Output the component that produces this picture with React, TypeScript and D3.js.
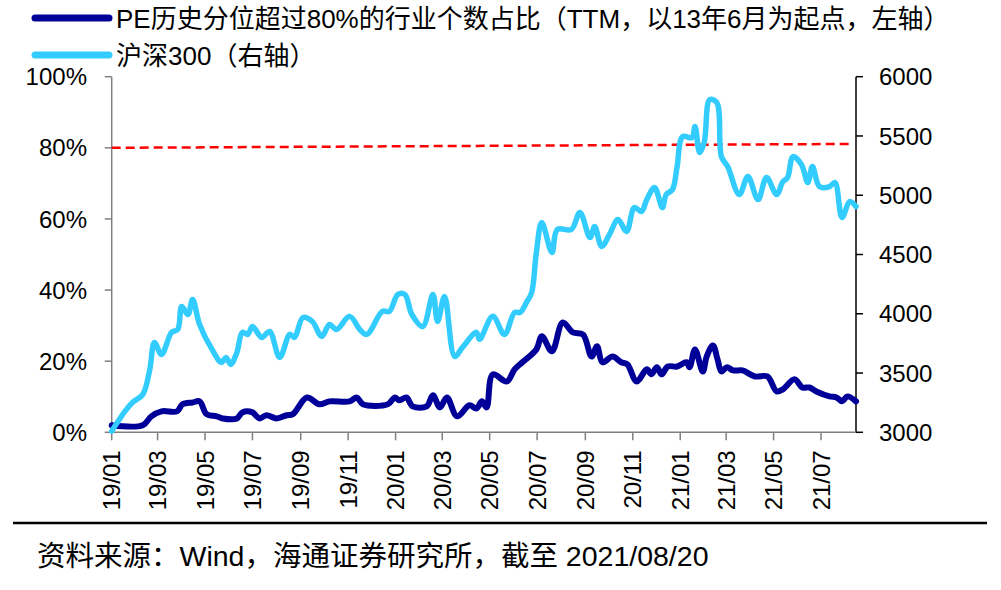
import React from 'react';
import * as d3 from 'd3';

// PE历史分位超过80%的行业个数占比 (%), weekly readings
const PE_DATES = [
  '2019-01-01','2019-02-10','2019-02-21','2019-03-06','2019-03-26','2019-04-02','2019-04-15','2019-04-24',
  '2019-05-03','2019-05-16','2019-05-24','2019-06-11','2019-06-18','2019-07-01','2019-07-10','2019-07-19',
  '2019-08-01','2019-08-14','2019-08-22','2019-09-09','2019-09-25','2019-10-08','2019-11-03','2019-11-12',
  '2019-11-20','2019-12-22','2019-12-31','2020-01-06','2020-01-15','2020-01-23','2020-02-10','2020-02-18',
  '2020-02-27','2020-03-07','2020-03-20','2020-04-05','2020-04-14','2020-04-21','2020-04-27','2020-05-05',
  '2020-05-23','2020-06-02','2020-06-12','2020-06-30','2020-07-07','2020-07-20','2020-08-03','2020-08-16',
  '2020-08-29','2020-09-09','2020-09-16','2020-09-23','2020-10-06','2020-10-17','2020-10-25','2020-11-06',
  '2020-11-19','2020-11-25','2020-12-02','2020-12-08','2020-12-16','2020-12-28','2021-01-09','2021-01-13',
  '2021-01-20','2021-01-30','2021-02-04','2021-02-12','2021-02-18','2021-02-23','2021-03-02','2021-03-10',
  '2021-03-22','2021-04-07','2021-04-23','2021-05-05','2021-05-13','2021-05-28','2021-06-07','2021-06-16',
  '2021-06-25','2021-07-12','2021-07-21','2021-07-28','2021-08-04','2021-08-15'
];
const PE_VALUES = [
  2.0, 2.0, 4.5, 5.9, 5.9, 7.9, 8.4, 8.7,
  5.1, 4.5, 3.9, 3.9, 5.6, 5.6, 3.9, 4.8,
  3.9, 4.8, 5.1, 9.8, 7.9, 8.7, 8.7, 9.8,
  7.9, 7.9, 9.8, 9.0, 9.8, 7.3, 7.3, 10.4,
  7.0, 9.8, 4.5, 7.6, 6.7, 8.7, 7.0, 16.3,
  14.3, 17.7, 19.7, 23.3, 27.0, 22.8, 30.9, 28.1,
  27.5, 21.3, 24.2, 19.7, 21.3, 19.7, 19.1, 14.3,
  17.7, 16.3, 18.3, 16.3, 18.5, 18.5, 19.7, 18.3,
  23.3, 17.1, 21.3, 24.4, 20.5, 17.1, 18.3, 17.4,
  17.4, 15.7, 15.7, 11.5, 12.1, 14.9, 12.6, 12.6,
  11.5, 10.1, 9.8, 8.7, 10.1, 8.7
];

// 沪深300 index level
const HS_DATES = [
  '2019-01-01','2019-01-18','2019-01-28','2019-02-10','2019-02-19','2019-02-25','2019-03-06','2019-03-19',
  '2019-03-27','2019-04-01','2019-04-09','2019-04-15','2019-04-24','2019-05-10','2019-05-22','2019-05-28',
  '2019-06-03','2019-06-11','2019-06-18','2019-06-25','2019-07-01','2019-07-13','2019-07-23','2019-08-05',
  '2019-08-18','2019-08-24','2019-09-04','2019-09-16','2019-09-28','2019-10-08','2019-10-17','2019-11-03',
  '2019-11-16','2019-11-25','2019-12-15','2019-12-24','2020-01-04','2020-01-13','2020-01-22','2020-02-05',
  '2020-02-18','2020-02-24','2020-03-04','2020-03-17','2020-03-27','2020-04-14','2020-04-18','2020-05-05',
  '2020-05-20','2020-06-02','2020-06-09','2020-06-18','2020-06-24','2020-06-30','2020-07-07','2020-07-20',
  '2020-07-27','2020-08-14','2020-08-25','2020-09-07','2020-09-13','2020-09-22','2020-10-02','2020-10-13',
  '2020-10-24','2020-11-03','2020-11-12','2020-11-19','2020-11-29','2020-12-09','2020-12-14','2020-12-22',
  '2020-12-28','2021-01-04','2021-01-16','2021-01-20','2021-01-26','2021-02-01','2021-02-08','2021-02-17',
  '2021-02-23','2021-03-03','2021-03-18','2021-03-29','2021-04-11','2021-04-22','2021-05-05','2021-05-13',
  '2021-05-19','2021-05-26','2021-06-06','2021-06-14','2021-06-20','2021-06-29','2021-07-12','2021-07-19',
  '2021-07-28','2021-08-07','2021-08-15'
];
const HS_VALUES = [
  3010, 3177, 3253, 3320, 3531, 3758, 3657, 3843,
  3868, 4062, 3994, 4121, 3910, 3699, 3590, 3632,
  3573, 3674, 3843, 3826, 3893, 3800, 3851, 3632,
  3826, 3800, 3969, 3935, 3809, 3910, 3868, 3978,
  3868, 3826, 4020, 4020, 4163, 4163, 3994, 3893,
  4163, 3935, 4146, 3640, 3716, 3843, 3784, 3978,
  3826, 4011, 4011, 4104, 4180, 4517, 4770, 4517,
  4711, 4711, 4854, 4643, 4736, 4567, 4669, 4795,
  4694, 4896, 4862, 4963, 5065, 4896, 5006, 5048,
  5242, 5494, 5486, 5579, 5360, 5452, 5806, 5781,
  5326, 5242, 5006, 5157, 4963, 5149, 5006, 5115,
  5149, 5326, 5258, 5107, 5242, 5073, 5073, 5107,
  4812, 4947, 4905
];

// 80% reference line (start, end)
const REF_DATES = ['2019-01-01', '2021-08-12'];
const REF_VALUES = [80, 81.1];

const X_TICK_LABELS = ['19/01','19/03','19/05','19/07','19/09','19/11','20/01','20/03','20/05','20/07','20/09','20/11','21/01','21/03','21/05','21/07'];
const LEFT_TICKS = [0, 20, 40, 60, 80, 100];
const RIGHT_TICKS = [3000, 3500, 4000, 4500, 5000, 5500, 6000];

const LEGEND = ['PE历史分位超过80%的行业个数占比（TTM，以13年6月为起点，左轴）', '沪深300（右轴）'];
const SOURCE = '资料来源：Wind，海通证券研究所，截至 2021/08/20';

const FONT = "'Liberation Sans', Arial, 'Noto Sans CJK SC', sans-serif";
const DARK = '#000099';
const LIGHT = '#33CCFF';

export default function App() {
  const W = 1001, H = 590;
  const parse = d3.timeParse('%Y-%m-%d');
  const x = d3.scaleTime()
    .domain([parse('2019-01-01') as Date, parse('2021-08-15') as Date])
    .range([111.7, 856]);
  const yL = d3.scaleLinear().domain([0, 100]).range([432.3, 76.7]);
  const yR = d3.scaleLinear().domain([3000, 6000]).range([432.3, 76.7]);

  const pe = PE_DATES.map((d, i) => ({ d: parse(d) as Date, v: PE_VALUES[i] }));
  const hs = HS_DATES.map((d, i) => ({ d: parse(d) as Date, v: HS_VALUES[i] }));
  const ref = REF_DATES.map((d, i) => ({ d: parse(d) as Date, v: REF_VALUES[i] }));

  const linePE = d3.line<{ d: Date; v: number }>().x(p => x(p.d)).y(p => yL(p.v)).curve(d3.curveCatmullRom.alpha(0.5));
  const lineHS = d3.line<{ d: Date; v: number }>().x(p => x(p.d)).y(p => yR(p.v)).curve(d3.curveCatmullRom.alpha(0.5));
  const lineRef = d3.line<{ d: Date; v: number }>().x(p => x(p.d)).y(p => yL(p.v));

  const xTicks = X_TICK_LABELS.map(l => ({ l, d: parse('20' + l.replace('/', '-') + '-01') as Date }));
  const [x0, x1] = x.range();
  const yBase = yL(0);

  return (
    <svg width={W} height={H} style={{ position: 'absolute', left: 0, top: 0, background: '#fff' }} fontFamily={FONT}>
      <rect x={0} y={0} width={W} height={H} fill="#fff" />
      {/* legend */}
      <line x1={35} x2={109} y1={18} y2={18} stroke={DARK} strokeWidth={7} strokeLinecap="round" />
      <text x={116} y={27.5} fontSize={26} fill="#000">{LEGEND[0]}</text>
      <line x1={35} x2={109} y1={55} y2={55} stroke={LIGHT} strokeWidth={7} strokeLinecap="round" />
      <text x={116} y={64.5} fontSize={26} fill="#000">{LEGEND[1]}</text>

      {/* left axis */}
      <line x1={x0} x2={x0} y1={yL(100)} y2={yBase} stroke="#808080" strokeWidth={1.5} />
      {LEFT_TICKS.map(t => (
        <g key={'l' + t}>
          <line x1={x0 - 7} x2={x0} y1={yL(t)} y2={yL(t)} stroke="#808080" strokeWidth={1.5} />
          <text x={87} y={yL(t)} dy="0.36em" textAnchor="end" fontSize={24}>{t + '%'}</text>
        </g>
      ))}
      {/* right axis */}
      <line x1={x1} x2={x1} y1={yR(6000)} y2={yBase} stroke="#000" strokeWidth={1.5} />
      {RIGHT_TICKS.map(t => (
        <g key={'r' + t}>
          <line x1={x1} x2={x1 + 7} y1={yR(t)} y2={yR(t)} stroke="#000" strokeWidth={1.5} />
          <text x={879} y={yR(t)} dy="0.36em" textAnchor="start" fontSize={24}>{t}</text>
        </g>
      ))}
      {/* bottom axis */}
      <line x1={x0} x2={x1} y1={yBase} y2={yBase} stroke="#808080" strokeWidth={1.5} />
      {xTicks.map(t => (
        <g key={t.l}>
          <line x1={x(t.d)} x2={x(t.d)} y1={yBase} y2={yBase + 8} stroke="#808080" strokeWidth={1.5} />
          <text transform={`translate(${x(t.d)},${yBase + 18}) rotate(-90)`} dy="0.36em" textAnchor="end" fontSize={24}>{t.l}</text>
        </g>
      ))}

      {/* series */}
      <path d={lineRef(ref) || ''} fill="none" stroke="#FF0000" strokeWidth={2.5} strokeDasharray="9 5" />
      <path d={linePE(pe) || ''} fill="none" stroke={DARK} strokeWidth={6} strokeLinejoin="round" strokeLinecap="round" />
      <path d={lineHS(hs) || ''} fill="none" stroke={LIGHT} strokeWidth={5.5} strokeLinejoin="round" strokeLinecap="round" />

      {/* footer */}
      <line x1={13} x2={987} y1={523} y2={523} stroke="#000" strokeWidth={2.5} />
      <text x={37} y={566} fontSize={28.5}>{SOURCE}</text>
    </svg>
  );
}
